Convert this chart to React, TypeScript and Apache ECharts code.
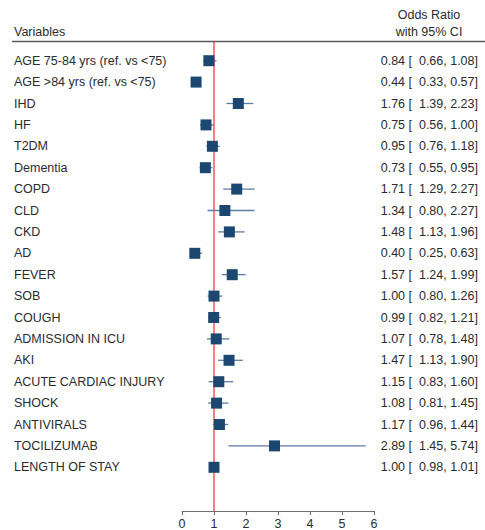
import React, { useEffect, useRef } from "react";
import * as echarts from "echarts";

const variables = [
  "AGE 75-84 yrs (ref. vs <75)",
  "AGE >84 yrs (ref. vs <75)",
  "IHD",
  "HF",
  "T2DM",
  "Dementia",
  "COPD",
  "CLD",
  "CKD",
  "AD",
  "FEVER",
  "SOB",
  "COUGH",
  "ADMISSION IN ICU",
  "AKI",
  "ACUTE CARDIAC INJURY",
  "SHOCK",
  "ANTIVIRALS",
  "TOCILIZUMAB",
  "LENGTH OF STAY",
];
const oddsRatio = [0.84, 0.44, 1.76, 0.75, 0.95, 0.73, 1.71, 1.34, 1.48, 0.4, 1.57, 1.0, 0.99, 1.07, 1.47, 1.15, 1.08, 1.17, 2.89, 1.0];
const ciLower = [0.66, 0.33, 1.39, 0.56, 0.76, 0.55, 1.29, 0.8, 1.13, 0.25, 1.24, 0.8, 0.82, 0.78, 1.13, 0.83, 0.81, 0.96, 1.45, 0.98];
const ciUpper = [1.08, 0.57, 2.23, 1.0, 1.18, 0.95, 2.27, 2.27, 1.96, 0.63, 1.99, 1.26, 1.21, 1.48, 1.9, 1.6, 1.45, 1.44, 5.74, 1.01];
const xTicks = [0, 1, 2, 3, 4, 5, 6];
const refValue = 1;

const FONT = "Liberation Sans, Arial, sans-serif";
const TXT = "#2b2b2b";

export default function App() {
  const ref = useRef<HTMLDivElement>(null);
  useEffect(() => {
    if (!ref.current) return;
    const chart = echarts.init(ref.current, null, { renderer: "svg" });
    const ciLabels = oddsRatio.map(
      (v, i) => `${v.toFixed(2)} [  ${ciLower[i].toFixed(2)}, ${ciUpper[i].toFixed(2)}]`
    );
    const option: any = {
      animation: false,
      backgroundColor: "#ffffff",
      grid: { left: 182, right: 111, top: 50, height: 429 },
      xAxis: {
        type: "value",
        min: xTicks[0],
        max: xTicks[xTicks.length - 1],
        interval: 1,
        offset: 33,
        splitLine: { show: false },
        axisLine: { show: true, lineStyle: { color: "#6e6e6e", width: 1 } },
        axisTick: { show: true, length: 4, lineStyle: { color: "#6e6e6e" } },
        axisLabel: { color: TXT, fontSize: 12.5, fontFamily: FONT, margin: 6 },
      },
      yAxis: [
        {
          type: "category",
          data: variables,
          inverse: true,
          axisLine: { show: false },
          axisTick: { show: false },
          splitLine: { show: false },
          axisLabel: { interval: 0, align: "left", margin: 168, color: TXT, fontSize: 12.5, fontFamily: FONT },
        },
        {
          type: "category",
          data: ciLabels,
          inverse: true,
          position: "right",
          axisLine: { show: false },
          axisTick: { show: false },
          splitLine: { show: false },
          axisLabel: { interval: 0, align: "right", margin: 104, color: TXT, fontSize: 12.5, fontFamily: FONT },
        },
      ],
      graphic: [
        { type: "line", shape: { x1: 12, y1: 41.5, x2: 485, y2: 41.5 }, style: { stroke: "#5a5a5a", lineWidth: 1.6 } },
        { type: "text", x: 14, y: 32, style: { text: "Variables", fill: TXT, font: `12.5px ${FONT}`, textVerticalAlign: "middle" } },
        { type: "text", x: 429, y: 15, style: { text: "Odds Ratio", fill: TXT, font: `12.5px ${FONT}`, textAlign: "center", textVerticalAlign: "middle" } },
        { type: "text", x: 429, y: 32, style: { text: "with 95% CI", fill: TXT, font: `12.5px ${FONT}`, textAlign: "center", textVerticalAlign: "middle" } },
      ],
      series: [
        {
          type: "custom",
          z: 1,
          data: [[refValue]],
          encode: { x: 0 },
          renderItem: (params: any, api: any) => {
            const x = api.coord([api.value(0), 0])[0];
            const cs = params.coordSys;
            return {
              type: "line",
              shape: { x1: x, y1: cs.y - 8, x2: x, y2: cs.y + cs.height + 33 },
              style: { stroke: "#f23b3b", lineWidth: 1.3 },
            };
          },
        },
        {
          type: "custom",
          z: 2,
          data: variables.map((_, i) => [ciLower[i], ciUpper[i], i]),
          encode: { x: [0, 1], y: 2 },
          renderItem: (_params: any, api: any) => {
            const p1 = api.coord([api.value(0), api.value(2)]);
            const p2 = api.coord([api.value(1), api.value(2)]);
            return {
              type: "line",
              shape: { x1: p1[0], y1: p1[1], x2: p2[0], y2: p2[1] },
              style: { stroke: "#5b7da5", lineWidth: 1.3 },
            };
          },
        },
        {
          type: "scatter",
          z: 3,
          symbol: "rect",
          symbolSize: 11,
          itemStyle: { color: "#1c4771", opacity: 1 },
          data: oddsRatio.map((v, i) => [v, i]),
        },
      ],
    };
    chart.setOption(option);
    return () => chart.dispose();
  }, []);
  return (
    <div
      ref={ref}
      style={{ position: "fixed", left: 0, top: 0, width: 485, height: 530, background: "#fff" }}
    />
  );
}
